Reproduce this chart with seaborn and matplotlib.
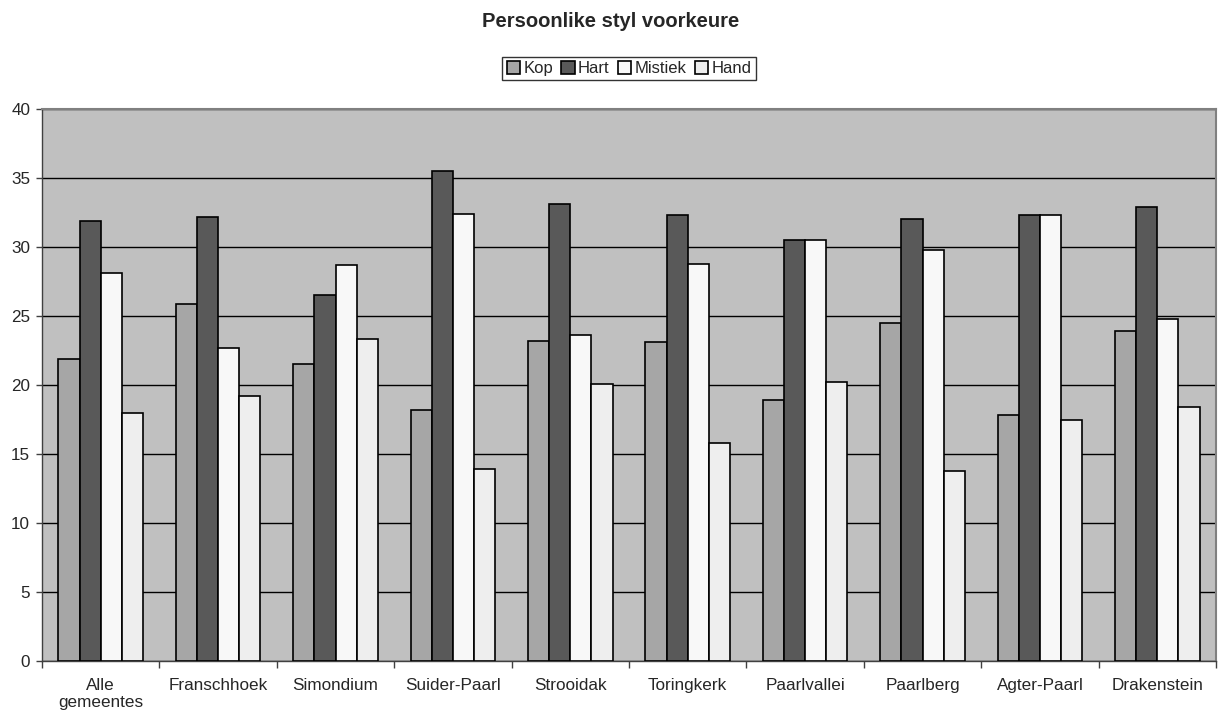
import matplotlib
matplotlib.use('Agg')
import matplotlib.pyplot as plt
import numpy as np
import pandas as pd
import seaborn as sns

categories = ['Alle\ngemeentes', 'Franschhoek', 'Simondium', 'Suider-Paarl', 'Strooidak',
              'Toringkerk', 'Paarlvallei', 'Paarlberg', 'Agter-Paarl', 'Drakenstein']
kop = [21.9, 25.9, 21.5, 18.2, 23.2, 23.1, 18.9, 24.5, 17.8, 23.9]
hart = [31.9, 32.2, 26.5, 35.5, 33.1, 32.3, 30.5, 32.0, 32.3, 32.9]
mistiek = [28.1, 22.7, 28.7, 32.4, 23.6, 28.8, 30.5, 29.8, 32.3, 24.8]
hand = [18.0, 19.2, 23.3, 13.9, 20.1, 15.8, 20.2, 13.8, 17.5, 18.4]
series = ['Kop', 'Hart', 'Mistiek', 'Hand']
colors = ['#a6a6a6', '#595959', '#f8f8f8', '#eeeeee']

df = pd.DataFrame({'Gemeente': categories, 'Kop': kop, 'Hart': hart,
                   'Mistiek': mistiek, 'Hand': hand})
df1 = df.melt(id_vars='Gemeente', var_name='Styl', value_name='Waarde')

sns.set_style('white')
plt.rcParams['font.family'] = ['Liberation Sans', 'DejaVu Sans']

fig = plt.figure(figsize=(12.22, 7.17), dpi=100)
ax = fig.add_axes([0.0344, 0.078, 0.9607, 0.770])

sns.barplot(data=df1, x='Gemeente', y='Waarde', hue='Styl', hue_order=series,
            palette=colors, width=0.72, edgecolor='black', linewidth=1.2,
            saturation=1, ax=ax, zorder=3)

ax.set_facecolor('#c0c0c0')
ax.set_ylim(0, 40)
ax.set_xlim(-0.5, len(categories) - 0.5)
ax.set_yticks(np.arange(0, 41, 5))
ax.yaxis.grid(True, color='black', linewidth=1, zorder=0)
ax.set_axisbelow(True)
ax.set_xlabel('')
ax.set_ylabel('')

# tick marks between categories, labels centred
ax.set_xticks(np.arange(-0.5, len(categories), 1), minor=True)
ax.tick_params(axis='x', which='major', length=0, pad=12, labelsize=12.3)
ax.tick_params(axis='x', which='minor', length=5, width=1, color='#404040', direction='out')
ax.tick_params(axis='y', length=4.5, width=1, color='#404040', direction='out', labelsize=12.3, pad=4)
ax.tick_params(bottom=True, left=True, which='both')

for side in ['left', 'bottom']:
    ax.spines[side].set_color('#404040')
    ax.spines[side].set_linewidth(1)
for side in ['top', 'right']:
    ax.spines[side].set_color('#808080')
    ax.spines[side].set_linewidth(1.5)

fig.text(0.5, 0.962, 'Persoonlike styl voorkeure', ha='center', va='baseline',
         fontsize=14.5, fontweight='bold')

leg = ax.legend(loc='center', bbox_to_anchor=(0.5, 1.073), ncol=4, frameon=True,
                fancybox=False, edgecolor='black', fontsize=12, handlelength=0.8,
                handleheight=0.8, handletextpad=0.2, columnspacing=0.5,
                borderpad=0.25, borderaxespad=0)
leg.get_frame().set_linewidth(1)

fig.savefig('out.png', dpi=100)
